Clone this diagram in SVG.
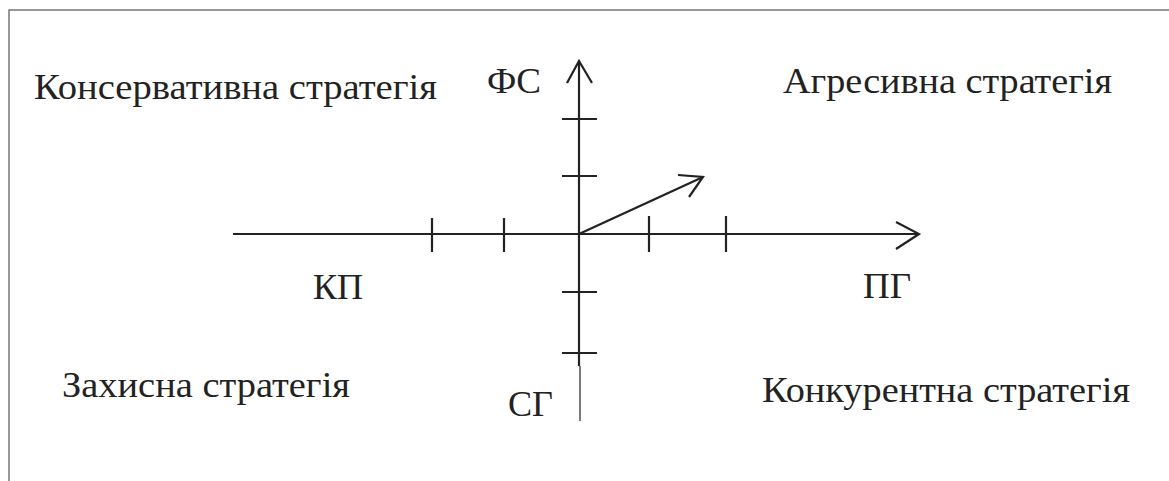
<svg xmlns="http://www.w3.org/2000/svg" width="1169" height="481" viewBox="0 0 1169 481">
<style>
.t{font-family:"Liberation Serif","Times New Roman",serif;font-size:36px;fill:#222}
.ax{stroke:#222;stroke-width:2.2;fill:none;stroke-linecap:butt}
.thin{stroke:#222;stroke-width:1.2;fill:none}
.frame{stroke:#777;stroke-width:1.5;fill:none}
</style>
<rect width="1169" height="481" fill="#fff"/>
<path class="frame" d="M9,481 V10 H1169"/>
<g id="connectors">
<path class="ax" d="M233,234 H919"/>
<path class="ax" d="M896,222 L919,234 L896,249"/>
<path class="ax" d="M579,366 V61"/>
<path class="ax" d="M567,83 L579,61 L592,83"/>
<path class="thin" d="M580,366 V421"/>
<path class="ax" d="M432,218 V252 M504,218 V252 M649,216 V252 M726,216 V252"/>
<path class="ax" d="M562,119 H597 M562,176 H597 M562,292 H597 M562,353 H597"/>
<path class="ax" d="M579,234 L703,177"/>
<path class="ax" d="M678,175 L703,177 L689,197"/>
</g>
<g id="cons"><text class="t" x="34" y="99" textLength="403" lengthAdjust="spacingAndGlyphs">Консервативна стратегія</text></g>
<g id="fs"><text class="t" x="487" y="93" textLength="54" lengthAdjust="spacingAndGlyphs">ФС</text></g>
<g id="aggr"><text class="t" x="783" y="93" textLength="329" lengthAdjust="spacingAndGlyphs">Агресивна стратегія</text></g>
<g id="kp"><text class="t" x="313" y="299" textLength="50" lengthAdjust="spacingAndGlyphs">КП</text></g>
<g id="pg"><text class="t" x="863" y="298" textLength="48" lengthAdjust="spacingAndGlyphs">ПГ</text></g>
<g id="zakh"><text class="t" x="62" y="397" textLength="288" lengthAdjust="spacingAndGlyphs">Захисна стратегія</text></g>
<g id="sg"><text class="t" x="508" y="416" textLength="45" lengthAdjust="spacingAndGlyphs">СГ</text></g>
<g id="konk"><text class="t" x="762" y="402" textLength="368" lengthAdjust="spacingAndGlyphs">Конкурентна стратегія</text></g>
</svg>
